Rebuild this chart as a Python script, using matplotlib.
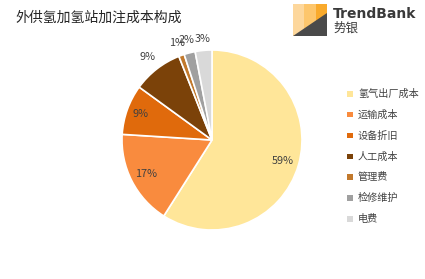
import matplotlib
matplotlib.use("Agg")
import matplotlib.pyplot as plt
from matplotlib.patches import Rectangle, Polygon
import numpy as np

plt.rcParams['font.family'] = ['Noto Sans CJK SC', 'DejaVu Sans']

title = "外供氢加氢站加注成本构成"
categories = ["氢气出厂成本", "运输成本", "设备折旧", "人工成本", "管理费", "检修维护", "电费"]
values = [59, 17, 9, 9, 1, 2, 3]
colors = ["#FFE699", "#F98B3E", "#E06A0C", "#7B4209", "#C2792C", "#A0A0A0", "#D9D9D9"]
label_radius = [0.82, 0.82, 0.84, 1.17, 1.15, 1.15, 1.13]

W, H = 425, 279
fig = plt.figure(figsize=(W / 100, H / 100), dpi=100)
fig.patch.set_facecolor("white")

def fx(px):
    return px / W

def fy(py):
    return 1 - py / H

# pie axes: center (212,140), radius 90 px
cx, cy, r = 212, 140, 90
ax = fig.add_axes([fx(cx - r), fy(cy + r), 2 * r / W, 2 * r / H])
wedges, _ = ax.pie(values, colors=colors, startangle=90, counterclock=False,
                   wedgeprops=dict(edgecolor="white", linewidth=1.2))
ax.set_xlim(-1, 1)
ax.set_ylim(-1, 1)
ax.set_aspect("equal")
ax.axis("off")

for w, v, lr in zip(wedges, values, label_radius):
    ang = np.deg2rad((w.theta1 + w.theta2) / 2)
    ax.text(lr * np.cos(ang), lr * np.sin(ang), f"{v}%", ha="center", va="center",
            fontsize=7.8, color="#404040")

# title
fig.text(fx(15), fy(18), title, fontsize=10, color="#262626", ha="left", va="center")

# legend
for i, (lab, col) in enumerate(zip(categories, colors)):
    y = 94 + i * 20.8
    fig.patches.append(Rectangle((fx(347), fy(y + 2.7)), 5.5 / W, 5.5 / H,
                                 transform=fig.transFigure, facecolor=col, edgecolor="none"))
    fig.text(fx(358), fy(y), lab, fontsize=7.3, color="#404040", ha="left", va="center")

# logo
x0, y0, lw_, lh_ = 293, 4, 34, 32
stripe_cols = ["#FDD79C", "#FDC66C", "#F9AA2C"]
for k, c in enumerate(stripe_cols):
    fig.patches.append(Rectangle((fx(x0 + k * lw_ / 3), fy(y0 + lh_)), (lw_ / 3) / W, lh_ / H,
                                 transform=fig.transFigure, facecolor=c, edgecolor="none"))
fig.patches.append(Polygon([(fx(x0), fy(y0 + lh_)), (fx(x0 + lw_), fy(y0 + lh_)),
                            (fx(x0 + lw_), fy(y0 + 9))], closed=True,
                           transform=fig.transFigure, facecolor="#4A4A4A", edgecolor="none"))
fig.text(fx(333), fy(13.5), "TrendBank", fontsize=10, fontweight="bold", color="#3A3A3A",
         ha="left", va="center", family=["DejaVu Sans"])
fig.text(fx(333), fy(28), "势银", fontsize=9, color="#3A3A3A", ha="left", va="center")

fig.savefig("out.png", dpi=100, facecolor="white")
